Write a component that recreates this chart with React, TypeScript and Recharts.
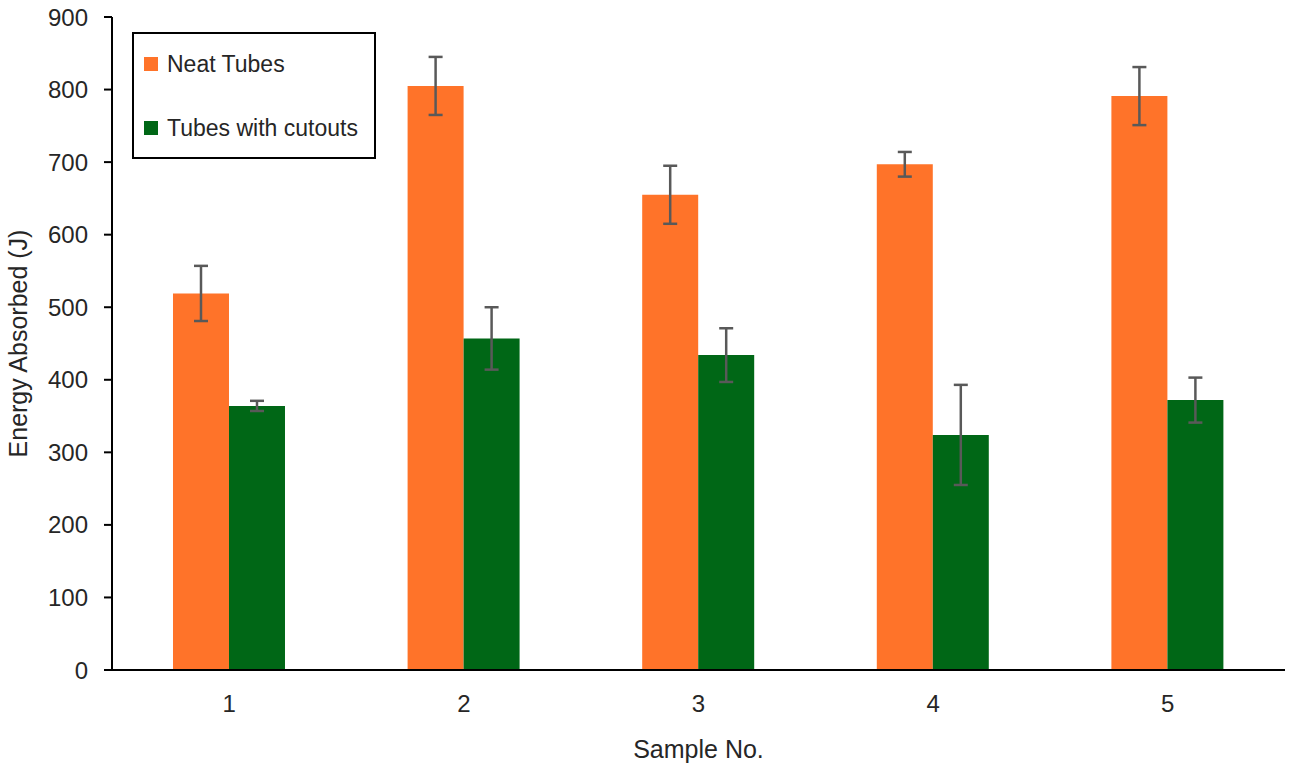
import { Bar, BarChart, ErrorBar, Legend, XAxis, YAxis } from "recharts";

const samples = ["1", "2", "3", "4", "5"];
const neatTubes = [519, 805, 655, 697, 791];
const neatTubesErr = [38, 40, 40, 17, 40];
const cutoutTubes = [364, 457, 434, 324, 372];
const cutoutTubesErr = [7, 43, 37, 69, 31];
const yTicks = [0, 100, 200, 300, 400, 500, 600, 700, 800, 900];

const ORANGE = "#FF7329";
const GREEN = "#006716";
const ERR = "#595959";
const FONT = "'Liberation Sans', Arial, sans-serif";
const TICK = { fontFamily: FONT, fontSize: 24, fill: "#262626" };
const TITLE = { fontFamily: FONT, fontSize: 25, fill: "#262626" };

const data = samples.map((s, i) => ({
  sample: s,
  neat: neatTubes[i],
  neatErr: neatTubesErr[i],
  cut: cutoutTubes[i],
  cutErr: cutoutTubesErr[i],
}));

function LegendBox({ payload }: any) {
  return (
    <div
      style={{
        border: "2px solid #000",
        background: "#fff",
        width: 244,
        height: 127,
        boxSizing: "border-box",
        fontFamily: FONT,
        fontSize: 23,
        color: "#262626",
        padding: "17px 0 0 10px",
      }}
    >
      {(payload || []).map((p: any, i: number) => (
        <div key={i} style={{ display: "flex", alignItems: "center", height: 26, marginBottom: i === 0 ? 38 : 0 }}>
          <span style={{ width: 14, height: 14, background: p.color, display: "inline-block", marginRight: 9 }} />
          <span>{p.value}</span>
        </div>
      ))}
    </div>
  );
}

export default function App() {
  return (
    <div style={{ position: "absolute", left: 0, top: 0, background: "#fff" }}>
      <BarChart
        width={1295}
        height={770}
        data={data}
        margin={{ top: 17, right: 10, left: 0, bottom: 0 }}
        barCategoryGap="26%"
        barGap={0}
      >
        <XAxis
          dataKey="sample"
          height={100}
          tick={TICK}
          tickLine={false}
          tickSize={0}
          tickMargin={25}
          axisLine={{ stroke: "#000", strokeWidth: 2 }}
          label={{ value: "Sample No.", position: "insideBottom", offset: 12, style: TITLE }}
        />
        <XAxis xAxisId="top" orientation="top" dataKey="sample" height={0} tick={false} tickLine={false} axisLine={{ stroke: "#000", strokeWidth: 2 }} />
        <YAxis
          domain={[0, 900]}
          ticks={yTicks}
          width={112}
          tick={TICK}
          tickSize={8}
          tickMargin={16}
          tickLine={{ stroke: "#000", strokeWidth: 2 }}
          axisLine={{ stroke: "#000", strokeWidth: 2 }}
          label={{ value: "Energy Absorbed (J)", angle: -90, position: "insideLeft", offset: 18, style: { ...TITLE, textAnchor: "middle" } }}
        />
        <YAxis yAxisId="right" orientation="right" width={0} tick={false} tickLine={false} axisLine={{ stroke: "#000", strokeWidth: 2 }} />
        <Legend
          content={<LegendBox />}
          layout="horizontal"
          align="center"
          verticalAlign="middle"
          wrapperStyle={{ position: "absolute", left: 132, top: 32, width: 244 }}
        />
        <Bar dataKey="neat" name="Neat Tubes" fill={ORANGE} isAnimationActive={false}>
          <ErrorBar dataKey="neatErr" stroke={ERR} strokeWidth={2.5} width={7} />
        </Bar>
        <Bar dataKey="cut" name="Tubes with cutouts" fill={GREEN} isAnimationActive={false}>
          <ErrorBar dataKey="cutErr" stroke={ERR} strokeWidth={2.5} width={7} />
        </Bar>
      </BarChart>
    </div>
  );
}
